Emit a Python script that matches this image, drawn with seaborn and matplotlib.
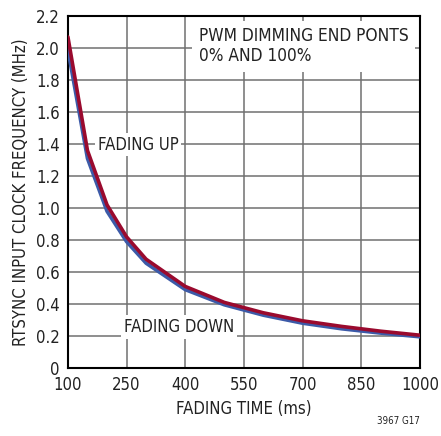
import matplotlib
matplotlib.use("Agg")
import matplotlib.pyplot as plt
from matplotlib import font_manager
import pandas as pd
import seaborn as sns

# fading time (ms) and RTSYNC clock frequency (MHz)
fade_time = [100, 150, 200, 250, 300, 400, 500, 600, 700, 800, 900, 1000]
freq_up = [2.07, 1.36, 1.02, 0.82, 0.68, 0.51, 0.41, 0.345, 0.295, 0.26, 0.23, 0.205]
freq_down = [1.99, 1.31, 0.98, 0.79, 0.655, 0.49, 0.395, 0.33, 0.28, 0.245, 0.218, 0.195]

x_ticks = [100, 250, 400, 550, 700, 850, 1000]
y_ticks = [0, 0.2, 0.4, 0.6, 0.8, 1.0, 1.2, 1.4, 1.6, 1.8, 2.0, 2.2]
y_labels = ["0", "0.2", "0.4", "0.6", "0.8", "1.0", "1.2", "1.4", "1.6", "1.8", "2.0", "2.2"]

df = pd.DataFrame({"t": fade_time, "FADING DOWN": freq_down, "FADING UP": freq_up})
df = df.melt(id_vars="t", var_name="dir", value_name="f")

sns.set_theme(style="white")
# condensed face if there is one, the chart uses a narrow sans
fonts = font_manager.fontManager.ttflist
cond = [f for f in fonts if f.name == "DejaVu Sans" and f.stretch == "condensed" and f.weight == 400]
plt.rcParams["font.family"] = ["DejaVu Sans"]
if cond:
    plt.rcParams["font.stretch"] = "condensed"
else:
    plt.rcParams["font.family"] = ["Liberation Sans", "DejaVu Sans"]
fsize = 12

fig = plt.figure(figsize=(4.41, 4.36), dpi=100)
ax = fig.add_axes([0.154, 0.156, 0.798, 0.807])

sns.lineplot(data=df, x="t", y="f", hue="dir", palette={"FADING DOWN": "#3c5aa8", "FADING UP": "#9a0a2e"},
             linewidth=2.6, legend=False, ax=ax, zorder=3)

ax.set_xlim(100, 1000)
ax.set_ylim(0, 2.2)
ax.set_xticks(x_ticks)
ax.set_yticks(y_ticks)
ax.set_yticklabels(y_labels)
ax.grid(True, color="#707070", linewidth=1.1)
ax.set_axisbelow(True)
for s in ax.spines.values():
    s.set_color("black")
    s.set_linewidth(1.5)
ax.tick_params(labelsize=fsize, length=0, colors="#222222")
ax.tick_params(axis="x", pad=6)
ax.tick_params(axis="y", pad=6)
ax.set_xlabel("FADING TIME (ms)", fontsize=fsize, color="#222222", labelpad=4)
ax.set_ylabel("RTSYNC INPUT CLOCK FREQUENCY (MHz)", fontsize=fsize, color="#222222", labelpad=4)

box = dict(facecolor="white", edgecolor="none", pad=2)
ax.text(0.372, 0.968, "PWM DIMMING END PONTS\n0% AND 100%", transform=ax.transAxes, fontsize=12.4,
        va="top", ha="left", linespacing=1.1, color="#222222", bbox=dict(facecolor="white", edgecolor="none", pad=5), zorder=4)
ax.text(0.085, 0.635, "FADING UP", transform=ax.transAxes, fontsize=fsize, va="center", ha="left",
        color="#222222", bbox=box, zorder=4)
ax.text(0.158, 0.117, "FADING DOWN", transform=ax.transAxes, fontsize=fsize, va="center", ha="left",
        color="#222222", bbox=box, zorder=4)
fig.text(0.952, 0.035, "3967 G17", fontsize=7, ha="right", va="center", color="#222222")

fig.savefig("out.png", dpi=100, facecolor="white")
